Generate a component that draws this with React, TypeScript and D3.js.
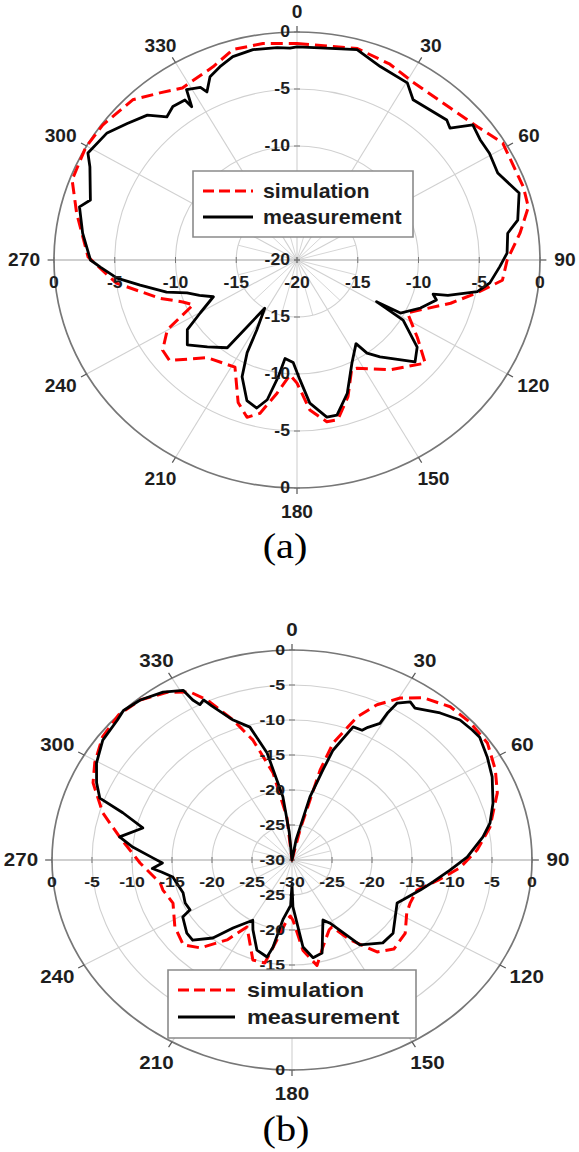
import React from 'react';
import * as d3 from 'd3';

// ---------- data (angle in degrees clockwise from top, value in dB) ----------
const ANGLE_TICKS = [0, 30, 60, 90, 120, 150, 180, 210, 240, 270, 300, 330];
const SERIES_NAMES = ['simulation', 'measurement'];

const SIM_A_ANG = [0,15,24,31.2,41.8,51.8,58.8,71,76.3,82.7,90,96,101,106.7,117,124.4,130.6,141.5,152.5,154.9,160.7,166.5,170.2,175.4,180,183.3,188,192.8,196.6,201.2,208.5,220.7,230,234.4,240.2,242.5,245.3,248.6,253.5,262.2,270.9,282.8,290.8,299.6,306.5,316.1,322.4,328,337.8,344.1,351.6];
const SIM_A_DB = [-1.0,-0.8,-1.2,-1.7,-1.7,-1.1,-0.2,-0.3,-0.4,-1.5,-2.7,-3.0,-4.9,-6.8,-9.8,-8.0,-6.1,-7.7,-9.3,-9.4,-7.3,-5.6,-5.6,-6.8,-9.2,-9.9,-8.2,-6.2,-5.6,-6.6,-9.3,-8.7,-6.3,-6.4,-7.7,-9.2,-10.6,-9.9,-8.2,-5.0,-2.8,-1.4,-0.2,0,-0.1,-0.5,-1.5,-2.2,-1.7,-0.8,-0.8];

const MEAS_A_ANG = [0,5.8,15,22,30.3,34.2,45.1,47.4,50.7,55,59.4,65.2,72.2,79.1,82.3,88,92,97.2,100.6,104,105,107,112.5,118.7,119.2,121.1,127.7,132.6,141.2,144.8,146.5,153.4,160.5,166.4,169.9,175.2,178.7,182,186.5,188.6,191.3,194.3,198.5,203.8,206.8,208.3,212.1,216.7,224.1,230.5,235.9,239.8,244.9,248.9,252.3,255.3,260.3,263.9,267.8,270,277.6,284.6,287.2,295.6,298.6,305.5,310.6,315.9,319.5,322.8,326.7,327.2,328.7,332.3,333.3,336,339.5,343.5,348.9,355,358.2];
const MEAS_A_DB = [-1.3,-1.3,-0.9,-1.7,-2.0,-3.0,-2.6,-2.9,-1.3,-1.6,-1.6,-1.8,-0.8,-1.5,-2.5,-2.7,-3.3,-4.0,-4.9,-7.2,-8.4,-8.0,-9.0,-10.3,-12.5,-9.8,-7.5,-6.8,-9.1,-10.0,-11.2,-9.9,-7.6,-6.0,-6.0,-7.4,-9.5,-11.0,-11.3,-9.6,-7.5,-6.6,-7.0,-8.8,-10.9,-13.0,-15.0,-10.4,-9.4,-8.3,-9.1,-10.8,-12.4,-11.4,-10.5,-8.9,-6.9,-5.1,-3.8,-3.0,-2.2,-1.5,-2.2,-1.1,-0.4,-0.8,-1.6,-2.3,-3.5,-3.1,-3.2,-4.0,-2.5,-2.9,-3.5,-2.4,-1.9,-1.4,-1.2,-1.3,-1.4];

const SIM_B_ANG = [0,8,13,15.3,17.1,21.7,25.6,30.3,35.3,42.1,48.5,55.6,63.1,69.5,79.2,86.4,93.1,99,105.4,112.5,117.7,126.5,135,141,147.6,152.4,155,162.7,168.3,173.9,179.2,181.5,184.2,189.4,193,198.9,207.7,210.5,215.4,222.4,228.3,236.8,247.5,255.1,258.7,268.7,278.7,285.9,293.9,299.4,306.6,313.8,320.3,326.9,332,335.1,339.8,344.1,349.2,354,357];
const SIM_B_DB = [-30,-30,-25.6,-16.7,-12.5,-8.0,-5.4,-3.2,-1.6,-0.5,-0.3,-0.4,-1.5,-2.6,-4.8,-6.8,-9.0,-11.5,-13.8,-14.0,-13.8,-12.4,-12.0,-13.1,-16.5,-19.2,-19.0,-17.0,-14.6,-17.0,-21.4,-22.0,-21.4,-18.4,-14.9,-14.9,-18.2,-18.9,-16.0,-13.0,-11.8,-12.5,-13.9,-13.3,-13.2,-11.0,-8.2,-5.4,-2.8,-1.7,-0.5,0,-0.3,-1.4,-2.8,-4.8,-8.7,-12.2,-17.3,-23.8,-30];

const MEAS_B_ANG = [0,6,10,14,16.7,18.1,21.9,25.3,26.6,29.4,29.6,30.4,33.2,35.3,41.4,46.4,50.5,53.2,58.9,64.6,72.1,78,82.1,88.9,94.2,100.1,105,112.3,115,129.6,136.2,145,152.2,155.7,164.2,169.3,173.7,179,180,181.5,187.6,190.8,192.7,198.8,206.1,209.7,217.2,221.6,227.3,231.5,239.2,240.8,245.3,251,260.7,264,266,268.5,271,275.3,278.7,283.8,287.7,290.2,294.3,299.6,305.9,312.5,315.4,320.3,326.1,330.7,331.5,332.6,334.2,335.5,339.8,344.5,348.5,352.8,355,357];
const MEAS_B_DB = [-30,-30,-27,-20.7,-16.6,-13.5,-9.5,-9.5,-8.8,-7.6,-5.9,-4.0,-3.0,-3.4,-2.0,-1.0,-0.8,-0.7,-1.5,-2.3,-3.6,-4.7,-5.9,-8.1,-10.2,-12.1,-13.4,-15.0,-15.5,-13.6,-13.6,-15.2,-19.8,-20.6,-16.2,-15.8,-17.5,-23.3,-26.5,-23.5,-21.4,-17.3,-15.8,-16.4,-18.9,-20.1,-17.8,-15.1,-13.1,-13.2,-14.1,-15.4,-15.3,-15.6,-14.9,-13.6,-12.5,-13.8,-12.6,-10.0,-8.2,-10.8,-7.8,-4.4,-3.2,-1.9,-0.8,-0.4,0,-0.3,-1.1,-2.2,-4.0,-5.0,-4.6,-5.8,-8.7,-10.3,-14.4,-20.9,-26,-30];

// ---------- layout ----------
const W = 579;
const H = 1152;
const FONT = '"Liberation Sans", Arial, Helvetica, sans-serif';
const TXT = '#1e1e1e';

type Leg = { x0: number; y0: number; x1: number; y1: number; l1: number; l2: number; lx0: number; lx1: number; tx: number; font: number };
type Cfg = {
  cx: number; cy: number; R: number; kx: number; min: number;
  sim: [number, number][]; meas: [number, number][];
  hDy: number; rFont: number; leg: Leg;
};

const PLOT_A: Cfg = {
  cx: 297, cy: 260, R: 228, kx: 243 / 228, min: -20,
  sim: d3.zip(SIM_A_ANG, SIM_A_DB) as [number, number][],
  meas: d3.zip(MEAS_A_ANG, MEAS_A_DB) as [number, number][],
  hDy: 23, rFont: 16.5,
  leg: { x0: 193, y0: 171, x1: 413, y1: 237, l1: 191, l2: 217, lx0: 203, lx1: 253, tx: 263, font: 20 },
};

const PLOT_B: Cfg = {
  cx: 292, cy: 860, R: 210, kx: 240 / 210, min: -30,
  sim: d3.zip(SIM_B_ANG, SIM_B_DB) as [number, number][],
  meas: d3.zip(MEAS_B_ANG, MEAS_B_DB) as [number, number][],
  hDy: 22, rFont: 15.5,
  leg: { x0: 168, y0: 970, x1: 416, y1: 1038, l1: 990, l2: 1017, lx0: 178, lx1: 235, tx: 247, font: 20.5 },
};

function Polar({ cfg }: { cfg: Cfg }) {
  const { cx, cy, R, kx, min, sim, meas, hDy, rFont, leg } = cfg;
  const r = d3.scaleLinear().domain([min, 0]).range([0, R]);
  const vals = d3.range(min, 0.001, 5); // min .. 0
  const innerRings = vals.filter((v) => v > min && v < 0);
  const rad = (a: number) => (a * Math.PI) / 180;
  const line = d3
    .lineRadial<[number, number]>()
    .angle((d) => rad(d[0]))
    .radius((d) => r(Math.max(min, Math.min(0, d[1]))))
    .curve(d3.curveLinearClosed);
  const ux = (px: number) => (px - cx) / kx;
  const uy = (py: number) => py - cy;
  const ns = { vectorEffect: 'non-scaling-stroke' as const };
  const spokes15 = d3.range(0, 360, 15).filter((a) => a % 30 !== 0);
  // labels that sit beneath the legend box are not visible in the original
  const underLegend = (x: number, y: number) => {
    const px = cx + x * kx;
    const py = cy + y;
    return px > leg.x0 - 4 && px < leg.x1 + 4 && py > leg.y0 - 4 && py < leg.y1 + 4;
  };

  type Lab = { k: string; x: number; y: number; t: string; anchor: string };
  const radialLabels: Lab[] = [];
  vals.forEach((v) => radialLabels.push({ k: 'vu' + v, x: -7 / kx, y: -r(v), t: String(v), anchor: 'end' }));
  vals.filter((v) => v > min).forEach((v) => radialLabels.push({ k: 'vd' + v, x: -7 / kx, y: r(v), t: String(v), anchor: 'end' }));
  vals.forEach((v) => radialLabels.push({ k: 'hl' + v, x: -r(v), y: hDy, t: String(v), anchor: 'middle' }));
  vals.filter((v) => v > min).forEach((v) => radialLabels.push({ k: 'hr' + v, x: r(v), y: hDy, t: String(v), anchor: 'middle' }));

  return (
    <g transform={`translate(${cx},${cy}) scale(${kx},1)`}>
      {/* inner spokes */}
      {spokes15.map((a) => (
        <line key={'s' + a} x1={0} y1={0} x2={Math.sin(rad(a)) * r(min + 5)} y2={-Math.cos(rad(a)) * r(min + 5)}
          stroke="#d6d6d6" strokeWidth={1} style={ns} />
      ))}
      {/* rings */}
      {innerRings.map((v) => (
        <circle key={'r' + v} r={r(v)} fill="none" stroke="#d0d0d0" strokeWidth={1.1} style={ns} />
      ))}
      {/* main spokes */}
      {ANGLE_TICKS.map((a) => (
        <line key={'m' + a} x1={0} y1={0} x2={Math.sin(rad(a)) * R} y2={-Math.cos(rad(a)) * R}
          stroke={a % 180 === 90 ? '#cfcfcf' : '#d0d0d0'} strokeWidth={a % 180 === 90 ? 2 : 1.1} style={ns} />
      ))}
      {/* outer circle */}
      <circle r={R} fill="none" stroke="#777" strokeWidth={1.7} style={ns} />
      {/* outer ticks */}
      {ANGLE_TICKS.map((a) => (
        <line key={'t' + a} x1={Math.sin(rad(a)) * R} y1={-Math.cos(rad(a)) * R}
          x2={Math.sin(rad(a)) * (R + 6)} y2={-Math.cos(rad(a)) * (R + 6)}
          stroke="#555" strokeWidth={1.2} style={ns} />
      ))}
      {/* axis ticks */}
      {vals.map((v) => (
        <g key={'at' + v}>
          <line x1={-3 / kx} x2={3 / kx} y1={-r(v)} y2={-r(v)} stroke="#777" strokeWidth={1} style={ns} />
          <line x1={-3 / kx} x2={3 / kx} y1={r(v)} y2={r(v)} stroke="#777" strokeWidth={1} style={ns} />
          <line x1={-r(v)} x2={-r(v)} y1={-3} y2={3} stroke="#777" strokeWidth={1} style={ns} />
          <line x1={r(v)} x2={r(v)} y1={-3} y2={3} stroke="#777" strokeWidth={1} style={ns} />
        </g>
      ))}

      {/* curves */}
      <path d={line(sim) || ''} fill="none" stroke="#ff0000" strokeWidth={3} strokeDasharray="12,6"
        strokeLinejoin="round" style={ns} />
      <path d={line(meas) || ''} fill="none" stroke="#000" strokeWidth={2.8} strokeLinejoin="round" style={ns} />

      {/* angle labels */}
      {ANGLE_TICKS.map((a) => {
        const s = Math.sin(rad(a));
        const c = Math.cos(rad(a));
        const lab = String(a);
        const halfW = (lab.length * 10) / 2 / kx;
        const x = s * (R + 14) + s * halfW;
        const y = -c * (R + 14) - c * (c > 0 ? 6 : 10);
        return (
          <text key={'al' + a} x={x} y={y} textAnchor="middle" dominantBaseline="central"
            fontFamily={FONT} fontWeight="bold" fontSize={18} fill={TXT}>{lab}</text>
        );
      })}

      {/* radial labels */}
      {radialLabels.filter((l) => !underLegend(l.x, l.y)).map((l) => (
        <text key={l.k} x={l.x} y={l.y} textAnchor={l.anchor} dominantBaseline="central"
          fontFamily={FONT} fontWeight="bold" fontSize={rFont} fill={TXT}>{l.t}</text>
      ))}

      {/* legend */}
      <rect x={ux(leg.x0)} y={uy(leg.y0)} width={ux(leg.x1) - ux(leg.x0)} height={leg.y1 - leg.y0}
        fill="#fff" stroke="#8a8a8a" strokeWidth={1.6} style={ns} />
      <line x1={ux(leg.lx0)} x2={ux(leg.lx1)} y1={uy(leg.l1)} y2={uy(leg.l1)} stroke="#ff0000"
        strokeWidth={3} strokeDasharray="11,5" style={ns} />
      <line x1={ux(leg.lx0)} x2={ux(leg.lx1)} y1={uy(leg.l2)} y2={uy(leg.l2)} stroke="#000"
        strokeWidth={2.8} style={ns} />
      <text x={ux(leg.tx)} y={uy(leg.l1)} dominantBaseline="central" fontFamily={FONT} fontWeight="bold"
        fontSize={leg.font} fill={TXT}>{SERIES_NAMES[0]}</text>
      <text x={ux(leg.tx)} y={uy(leg.l2)} dominantBaseline="central" fontFamily={FONT} fontWeight="bold"
        fontSize={leg.font} fill={TXT}>{SERIES_NAMES[1]}</text>
    </g>
  );
}

export default function App() {
  return (
    <svg width={W} height={H} viewBox={`0 0 ${W} ${H}`}
      style={{ position: 'absolute', left: 0, top: 0, display: 'block', background: '#fff' }}>
      <rect x={0} y={0} width={W} height={H} fill="#fff" />
      <Polar cfg={PLOT_A} />
      <Polar cfg={PLOT_B} />
      <text transform="translate(285,558) scale(1.12,1)" textAnchor="middle"
        fontFamily='"Liberation Serif", "Times New Roman", serif' fontSize={36} fill="#000">(a)</text>
      <text transform="translate(286,1141) scale(1.12,1)" textAnchor="middle"
        fontFamily='"Liberation Serif", "Times New Roman", serif' fontSize={36} fill="#000">(b)</text>
    </svg>
  );
}
